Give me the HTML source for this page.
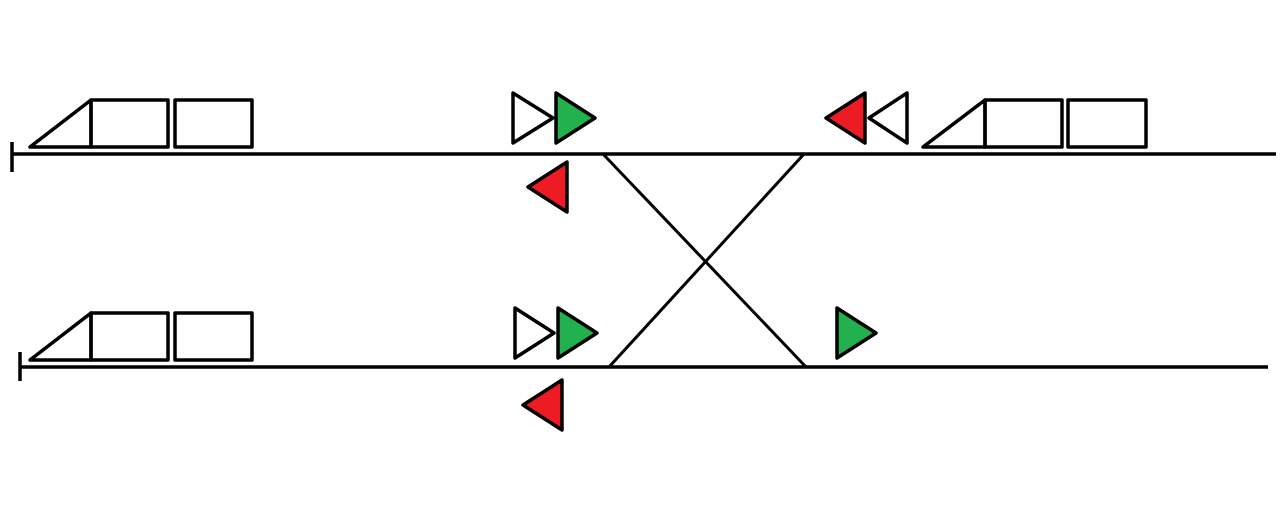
<!DOCTYPE html>
<html><head><meta charset="utf-8"><style>html,body{margin:0;padding:0;background:#fff}svg{display:block}</style></head>
<body>
<svg width="1280" height="525" viewBox="0 0 1280 525" xmlns="http://www.w3.org/2000/svg">
<g stroke="#000" stroke-width="3.5" fill="none" stroke-linejoin="round">
<!-- tracks -->
<line x1="12" y1="154" x2="1276" y2="154"/>
<line x1="12" y1="142" x2="12" y2="172"/>
<line x1="20" y1="367" x2="1268" y2="367"/>
<line x1="20" y1="352" x2="20" y2="381"/>
<!-- crossovers -->
<line x1="603" y1="154" x2="806" y2="367" stroke-width="3"/>
<line x1="804" y1="154" x2="609" y2="367" stroke-width="3"/>
<!-- train 1 -->
<polygon points="30,147 91,100 91,147"/>
<rect x="91" y="100" width="77" height="47"/>
<rect x="175" y="100" width="77" height="47"/>
<!-- train 2 -->
<polygon points="30,360 91,313 91,360"/>
<rect x="91" y="313" width="77" height="47"/>
<rect x="175" y="313" width="77" height="47"/>
<!-- train 3 -->
<polygon points="923,147 985,100 985,147"/>
<rect x="985" y="100" width="77" height="47"/>
<rect x="1068" y="100" width="78" height="47"/>
</g>
<g stroke="#000" stroke-width="3.5" stroke-linejoin="round">
<!-- top left signals -->
<polygon points="513,93 553,118 513,143" fill="#fff"/>
<polygon points="556,93 595,118 556,143" fill="#22b14c"/>
<polygon points="567,162 528,187 567,212" fill="#ed1c24"/>
<!-- top right signals -->
<polygon points="865,93 826,118 865,143" fill="#ed1c24"/>
<polygon points="907,93 869,118 907,143" fill="#fff"/>
<!-- bottom signals -->
<polygon points="515,308 554,333 515,358" fill="#fff"/>
<polygon points="558,308 597,333 558,358" fill="#22b14c"/>
<polygon points="562,380 523,405 562,430" fill="#ed1c24"/>
<polygon points="837,308 876,333 837,358" fill="#22b14c"/>
</g>
</svg>
</body></html>
